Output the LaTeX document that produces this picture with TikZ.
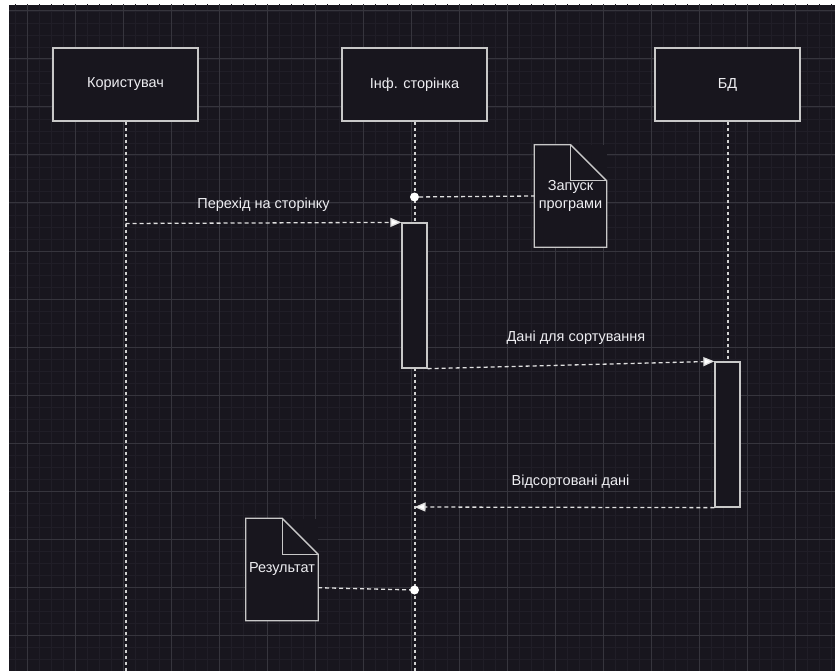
\documentclass[tikz,border=0pt]{standalone}
\usepackage{fontspec}
\setmainfont{Liberation Sans}
\usetikzlibrary{positioning,arrows.meta}
\definecolor{bgdark}{RGB}{24,22,30}
\definecolor{minorline}{RGB}{32,30,39}
\definecolor{majorline}{RGB}{54,53,61}
\definecolor{edgegray}{RGB}{200,200,200}
\definecolor{textwhite}{RGB}{238,238,242}
\tikzset{lifebox/.style={rectangle, draw=edgegray, fill=bgdark, line width=1.3pt, minimum width=145pt, minimum height=73pt, text=textwhite, font=\fontsize{14.5}{17}\selectfont},
actbox/.style={rectangle, draw=edgegray, fill=bgdark, line width=1.3pt, minimum width=25pt, minimum height=145pt},
lifeline/.style={draw=white!82!black, line width=2pt, dash pattern=on 3pt off 3pt},
msgline/.style={draw=white!88!black, line width=1.3pt, dash pattern=on 4pt off 3pt},
msg/.style={msgline, -{Triangle[length=11pt,width=9pt,fill=white]}},
msglabel/.style={text=textwhite, font=\fontsize{14.5}{17}\selectfont},
notebox/.style={rectangle, fill=bgdark, minimum width=72pt, minimum height=102pt, inner sep=0pt, text=textwhite, align=center, font=\fontsize{14.5}{18}\selectfont},
noteline/.style={draw=edgegray, line width=1.3pt},
dotmark/.style={circle, fill=white, inner sep=0pt, minimum size=9pt},
}
\begin{document}
\begin{tikzpicture}[x=1pt, y=-1pt]
\useasboundingbox (0,0) rectangle (835,671);
% background and grid
\fill[white] (0,0) rectangle (835,671);
\fill[bgdark] (9,5) rectangle (835,671);
\begin{scope}
\clip (9,5) rectangle (835,671);
\draw[minorline, line width=0.8pt, shift={(3,11)}] (-12,-12) grid[step=12pt] (840,670);
\draw[majorline, line width=1pt, shift={(27,11)}] (-48,-48) grid[step=48pt] (820,670);
\end{scope}

% participants
\node [lifebox] (user) at (125.5,84.5) {Користувач};
\node [lifebox] (page) at (414.5,84.5) {Інф. сторінка};
\node [lifebox] (db) at (727.5,84.5) {БД};

% lifelines and activations
\draw[lifeline] (user.south) -- ++(0,550);
\draw[lifeline] (page.south) -- ++(0,550);
\draw[lifeline] (db.south) -- ++(0,241);
\node [actbox] (act1) at (414.5,295.5) {};
\node [actbox] (act2) at (727.5,434.5) {};

% notes
\node [notebox] (start) at (570.5,196) {Запуск\\програми};
\draw[noteline] (start.north west) -- ([xshift=-36pt]start.north east) -- ([yshift=-36pt]start.north east) -- (start.south east) -- (start.south west) -- cycle;
\draw[noteline] ([xshift=-36pt]start.north east) |- ([yshift=-36pt]start.north east);
\node [notebox] (result) at (282,569.5) {Результат};
\draw[noteline] (result.north west) -- ([xshift=-36pt]result.north east) -- ([yshift=-36pt]result.north east) -- (result.south east) -- (result.south west) -- cycle;
\draw[noteline] ([xshift=-36pt]result.north east) |- ([yshift=-36pt]result.north east);

\node [dotmark] (dstart) at (414.5,197) {};
\node [dotmark] (dresult) at (414.5,590) {};
\draw[msgline] (dstart) -- (start.west);
\draw[msgline] ([yshift=33pt]result.south east) -- (dresult);

% messages
\coordinate (ugo) at (125.5,223.5);
\coordinate (pback) at (414.5,507);
\draw[msg] (ugo) -- (act1.north west);
\draw[msg] (act1.south east) -- (act2.north west);
\draw[msg] (act2.south west) -- (pback);
\node [msglabel] (lgo) at (263.5,205) {Перехід на сторінку};
\node [msglabel] (ldata) at (576,338) {Дані для сортування};
\node [msglabel] (lsorted) at (570.5,482) {Відсортовані дані};
\end{tikzpicture}
\end{document}
